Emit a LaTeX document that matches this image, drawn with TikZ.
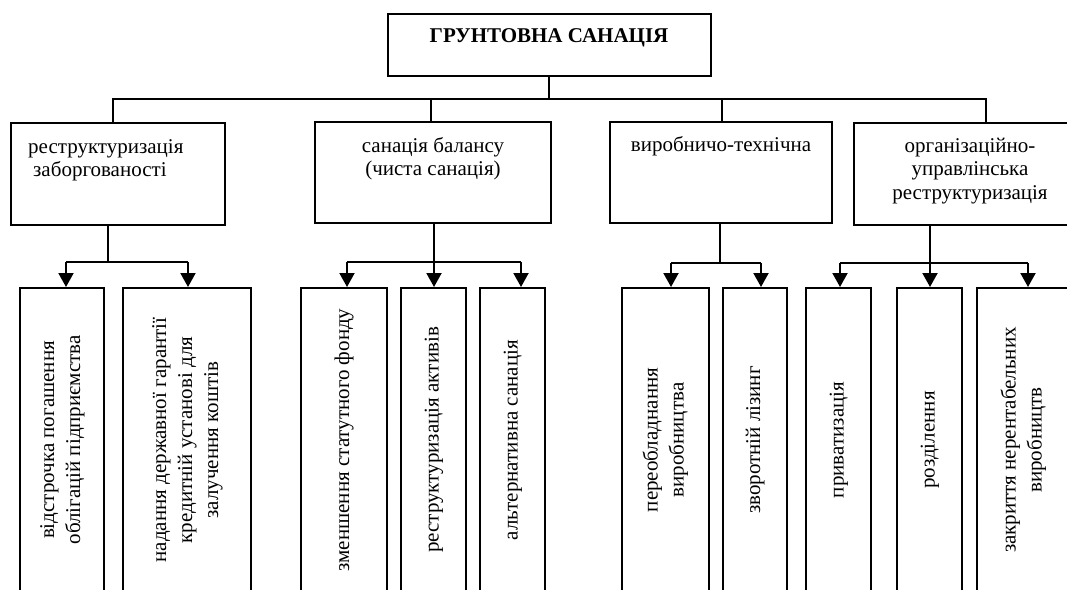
\documentclass[tikz,border=0pt]{standalone}
\usepackage{fontspec}
\setmainfont{Liberation Serif}
\usepackage{graphicx}
\usetikzlibrary{positioning,arrows.meta}
\newcommand{\vlabel}[1]{\rotatebox{90}{\begin{tabular}{@{}c@{}}#1\end{tabular}}}

\begin{document}
\begin{tikzpicture}[x=1pt,y=-1pt,
    box/.style={draw,line width=2pt,inner sep=0pt},
    vbox/.style={box,minimum height=304pt,font=\fontsize{21}{26}\selectfont},
    caption/.style={inner sep=0pt,font=\fontsize{21}{23.5}\selectfont},
    link/.style={line width=1.5pt},
    branch/.style={line width=2pt},
    arrow/.style={line width=2pt,-{Triangle[length=14pt,width=15pt]}}]
  \useasboundingbox (0,0) rectangle (1067,589);
  \clip (0,0) rectangle (1067,589);
  % top level
  \node[box,minimum width=323pt,minimum height=62pt] (main) at (549,45) {};
  \node[caption,font=\fontsize{21}{23.5}\selectfont\bfseries,below=29pt of main.north,anchor=base] {ГРУНТОВНА САНАЦІЯ};
  % second level (base = last line)
  \node[box,minimum width=214pt,minimum height=102pt] (debt) at (118,174) {};
  \node[caption,align=left,below right=54.5pt and 18pt of debt.north west,anchor=base west] {реструктуризація\\\hspace*{5pt}заборгованості};
  \node[box,minimum width=236pt,minimum height=101pt] (balance) at (433,172.5) {};
  \node[caption,align=center,below=54.5pt of balance.north,anchor=base] {санація балансу\\(чиста санація)};
  \node[box,minimum width=222pt,minimum height=101pt] (tech) at (721,172.5) {};
  \node[caption,below=30pt of tech.north,anchor=base] {виробничо-технічна};
  \node[box,minimum width=232pt,minimum height=102pt] (org) at (970,174) {};
  \node[caption,align=center,below=77pt of org.north,anchor=base] {організаційно-\\управлінська\\реструктуризація};
  % third level
  \node[vbox,minimum width=84pt] (delay) at (62,440) {\vlabel{відстрочка погашення\\облігацій підприємства}};
  \node[vbox,minimum width=128pt] (guarantee) at (187,440) {\vlabel{надання державної гарантії\\кредитній установі для\\залучення коштів}};
  \node[vbox,minimum width=86pt] (capital) at (344,440) {\vlabel{зменшення статутного фонду}};
  \node[vbox,minimum width=65pt] (assets) at (433.5,440) {\vlabel{реструктуризація активів}};
  \node[vbox,minimum width=65pt] (alt) at (512.5,440) {\vlabel{альтернативна санація}};
  \node[vbox,minimum width=87pt] (refit) at (665.5,440) {\vlabel{переобладнання\\виробництва}};
  \node[vbox,minimum width=64pt] (lease) at (755,440) {\vlabel{зворотній лізинг}};
  \node[vbox,minimum width=65pt] (priv) at (838.5,440) {\vlabel{приватизація}};
  \node[vbox,minimum width=65pt] (split) at (929.5,440) {\vlabel{розділення}};
  \node[vbox,minimum width=93pt] (close) at (1023.5,440) {\vlabel{закриття нерентабельних\\виробництв}};
  % bus under the main box
  \coordinate (busL) at (113,99);
  \coordinate (busB) at (431,99);
  \coordinate (busT) at (722,99);
  \coordinate (busR) at (986,99);
  \draw[link] (main.south) -- (main.south |- busL);
  \draw[link] (busL |- debt.north) -- (busL) -- (busR) -- (busR |- org.north);
  \draw[link] (busB) -- (busB |- balance.north);
  \draw[link] (busT) -- (busT |- tech.north);
  % branches to the third level
  \coordinate (j1) at (108,262);
  \coordinate (j2) at (434,262);
  \coordinate (j3) at (720,263);
  \coordinate (j4) at (930,263);
  \draw[link] (j1 |- debt.south) -- (j1);
  \draw[link] (j2 |- balance.south) -- (j2);
  \draw[link] (j3 |- tech.south) -- (j3);
  \draw[link] (j4 |- org.south) -- (j4);
  \draw[branch] (66,262) -- (188,262);
  \draw[branch] (347,262) -- (521,262);
  \draw[branch] (671,263) -- (761,263);
  \draw[branch] (840,263) -- (1028,263);
  \foreach \x/\y/\n in {66/262/delay,188/262/guarantee,347/262/capital,434/262/assets,521/262/alt,
                         671/263/refit,761/263/lease,840/263/priv,930/263/split,1028/263/close}
    \draw[arrow] (\x,\y) -- (\x,\y |- \n.north);
\end{tikzpicture}
\end{document}
